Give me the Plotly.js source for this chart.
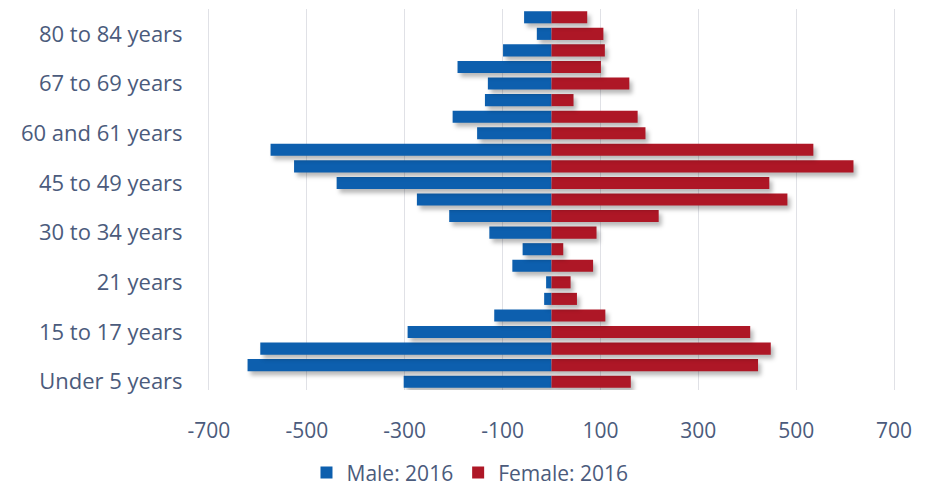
<!DOCTYPE html>
<html>
<head>
<meta charset="utf-8">
<script src="https://cdn.plot.ly/plotly-3.0.1.min.js"></script>
<style>
html,body{margin:0;padding:0;background:#fff;}
#chart{width:927px;height:495px;}
.trace.bars .point path{filter:drop-shadow(3px 4px 2px rgba(0,0,0,0.28));}
</style>
</head>
<body>
<div id="chart"></div>
<script>
const categories = [
  "Under 5 years","5 to 9 years","10 to 14 years","15 to 17 years","18 and 19 years",
  "20 years","21 years","22 to 24 years","25 to 29 years","30 to 34 years",
  "35 to 39 years","40 to 44 years","45 to 49 years","50 to 54 years","55 to 59 years",
  "60 and 61 years","62 to 64 years","65 and 66 years","67 to 69 years","70 to 74 years",
  "75 to 79 years","80 to 84 years","85 years and over"
];
const male2016 = [-302,-621,-595,-294,-117,-15,-11,-80,-59,-127,-209,-275,-439,-526,-574,-152,-202,-136,-130,-192,-99,-30,-56];
const female2016 = [162,422,448,406,110,52,39,85,24,92,219,482,445,617,535,192,176,45,159,101,109,106,73];
const xTicks = [-700,-500,-300,-100,100,300,500,700];
const yTickLabels = ["Under 5 years","15 to 17 years","21 years","30 to 34 years","45 to 49 years","60 and 61 years","67 to 69 years","80 to 84 years"];

const font = "'Open Sans', 'Noto Sans', sans-serif";
const textColor = "#4b5b7c";

const data = [
  {type:'bar', orientation:'h', name:'Male: 2016', y:categories, x:male2016,
   marker:{color:'#0d5fae'}, hoverinfo:'x+y'},
  {type:'bar', orientation:'h', name:'Female: 2016', y:categories, x:female2016,
   marker:{color:'#ae1726'}, hoverinfo:'x+y'}
];

const layout = {
  width:927, height:495,
  margin:{l:204, r:28, t:9, b:105},
  paper_bgcolor:'#fff', plot_bgcolor:'#fff',
  barmode:'relative', bargap:0.27,
  font:{family:font, color:textColor, size:21},
  showlegend:true,
  legend:{orientation:'h', xref:'container', yref:'container', x:0.507, xanchor:'center',
          y:0.045, yanchor:'middle',
          font:{size:21, color:textColor}, itemwidth:30, traceorder:'normal'},
  xaxis:{range:[-710,710], tickvals:xTicks, ticktext:xTicks.map(String),
         showgrid:true, gridcolor:'#e0e1e6', gridwidth:1, zeroline:false,
         showline:false, ticks:'outside', ticklen:22, tickcolor:'rgba(0,0,0,0)',
         tickfont:{size:21, color:textColor}},
  yaxis:{type:'category', categoryorder:'array', categoryarray:categories,
         range:[-0.5,22.5], tickmode:'array', tickvals:yTickLabels, ticktext:yTickLabels,
         showgrid:false, zeroline:false, showline:false,
         ticks:'outside', ticklen:16, tickcolor:'rgba(0,0,0,0)',
         tickfont:{size:22, color:textColor}}
};

Plotly.newPlot('chart', data, layout, {displayModeBar:false, staticPlot:true});
</script>
</body>
</html>
